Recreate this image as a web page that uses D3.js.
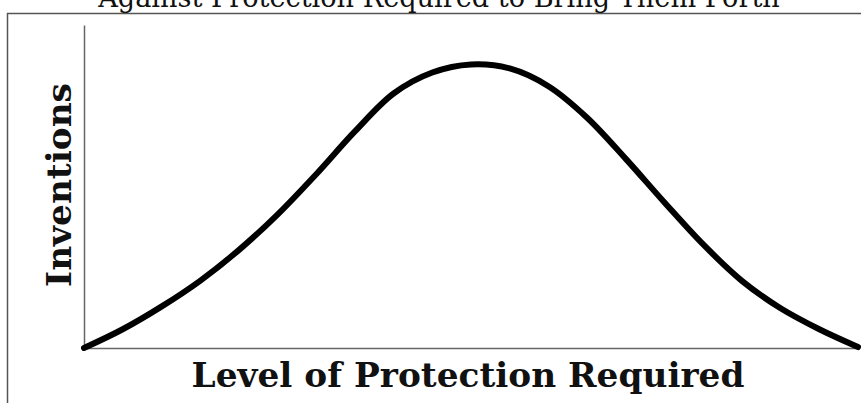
<!DOCTYPE html>
<html>
<head>
<meta charset="utf-8">
<script src="https://cdn.jsdelivr.net/npm/d3@7"></script>
<style>
  body { margin: 0; background: #fff; }
  text { font-family: "DejaVu Serif", "Liberation Serif", serif; fill: #111; }
</style>
</head>
<body>
<div id="chart"></div>
<script>
// chart size
const width = 861;
const height = 403;
const margin = { top: 25, right: 3, bottom: 55, left: 84 };

// texts
const titleText = "Against Protection Required to Bring Them Forth";
const xLabel = "Level of Protection Required";
const yLabel = "Inventions";

// curve: protection level (0-100) vs inventions (0-100)
const protectionLevels = [0, 5, 10, 15, 20, 25, 30, 35, 40, 45, 50,
    55, 60, 65, 70, 75, 80, 85, 90, 95, 100];
const inventionCounts = [0, 5.8, 12.8, 20.8, 30.3, 41.3, 53.8, 67.05, 78.8, 85.3, 87.8,
    86.55, 81.05, 71.3, 58.55, 45.05, 32.05, 20.8, 12.3, 5.8, 0.3];

const points = protectionLevels.map(function (p, i) {
    return { x: p, y: inventionCounts[i] };
});

const svg = d3.select("#chart")
    .append("svg")
    .attr("width", width)
    .attr("height", height);

const x = d3.scaleLinear()
    .domain([0, 100])
    .range([margin.left, width - margin.right]);

const y = d3.scaleLinear()
    .domain([0, 100])
    .range([height - margin.bottom, margin.top]);

// outer frame, only top and left show in the picture
svg.append("line")
    .attr("x1", 7).attr("y1", 13.5)
    .attr("x2", width).attr("y2", 13.5)
    .attr("stroke", "#555")
    .attr("stroke-width", 1.5);

svg.append("line")
    .attr("x1", 7.5).attr("y1", 13)
    .attr("x2", 7.5).attr("y2", height)
    .attr("stroke", "#555")
    .attr("stroke-width", 1.5);

// axes with no ticks, just the lines
svg.append("g")
    .attr("transform", "translate(0," + y(0) + ")")
    .call(d3.axisBottom(x).ticks(0).tickSizeOuter(0));

svg.append("g")
    .attr("transform", "translate(" + x(0) + ",0)")
    .call(d3.axisLeft(y).ticks(0).tickSizeOuter(0));

svg.selectAll(".domain")
    .attr("stroke", "#666")
    .attr("stroke-width", 1.5);

// the curve
const line = d3.line()
    .x(function (d) { return x(d.x); })
    .y(function (d) { return y(d.y); })
    .curve(d3.curveCatmullRom.alpha(0.5));

svg.append("path")
    .datum(points)
    .attr("d", line)
    .attr("fill", "none")
    .attr("stroke", "#000")
    .attr("stroke-width", 6)
    .attr("stroke-linecap", "round");

// fit a text's font size so it covers a given width
function fitText(sel, target) {
    const w = sel.node().getComputedTextLength();
    const size = parseFloat(sel.style("font-size"));
    sel.style("font-size", (size * target / w) + "px");
}

// title, cut off at the top edge like in the scan
const title = svg.append("text")
    .attr("x", 439)
    .attr("y", 7)
    .attr("text-anchor", "middle")
    .style("font-size", "30px")
    .text(titleText);
fitText(title, 682);

const xText = svg.append("text")
    .attr("x", 468)
    .attr("y", 387)
    .attr("text-anchor", "middle")
    .style("font-size", "36px")
    .style("font-weight", "bold")
    .text(xLabel);
fitText(xText, 553);

const yText = svg.append("text")
    .attr("transform", "translate(71,185) rotate(-90)")
    .attr("text-anchor", "middle")
    .style("font-size", "36px")
    .style("font-weight", "bold")
    .text(yLabel);
fitText(yText, 204);
</script>
</body>
</html>
